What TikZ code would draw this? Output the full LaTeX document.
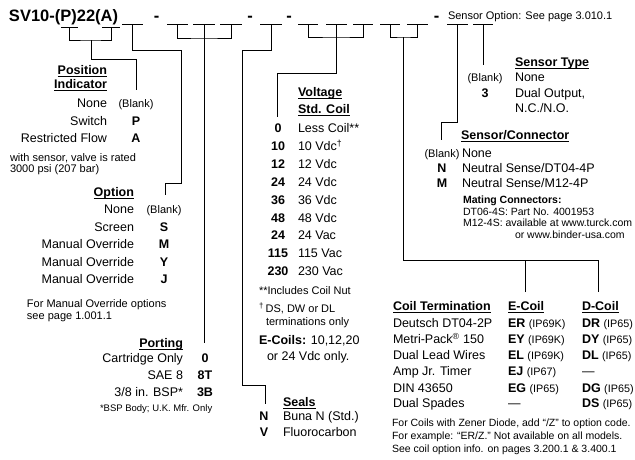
\documentclass[tikz,border=0pt]{standalone}
\usepackage{fontspec}
\setmainfont{Liberation Sans}

\newcommand{\fsz}[1]{\fontsize{#1}{#1}\selectfont}
\newcommand{\hul}[1]{\setbox0=\hbox{#1}\rlap{\rule[-2.2pt]{\wd0}{0.9pt}}\box0}
\newcommand{\coilcode}[2]{{\bfseries #1} {\fsz{10.8}(#2)}}

\begin{document}
\begin{tikzpicture}[x=1pt, y=-1pt,
    every node/.style={inner sep=0pt, outer sep=0pt},
    lft/.style={font=\fsz{12.5}, anchor=base west},
    rgt/.style={font=\fsz{12.5}, anchor=base east},
    hdr/.style={font=\fsz{12.5}\bfseries},
    code/.style={font=\fsz{12.5}\bfseries, anchor=base},
    note/.style={font=\fsz{11}, anchor=base west},
    blk/.style={font=\fsz{11}, anchor=base},
    wire/.style={line width=0.9pt},
    blank/.style={line width=0.9pt}
  ]
    \useasboundingbox (0,0) rectangle (635,459);

    % model code line
    \node[font=\fsz{16.5}\bfseries, anchor=base west] (title) at (9,21) {SV10-(P)22(A)};
    \foreach \nm/\x in {d1/156.5, d2/250, d3/289, d4/436.5}
      \node[font=\fsz{16.5}\bfseries, anchor=base] (\nm) at (\x,21) {-};
    \node[font=\fsz{11}, anchor=base west] (sopt) at (448,19) {Sensor Option: See page 3.010.1};

    \foreach \nm/\xa/\xb/\yy in {bP/61/78/27.5, bA/102/120/27.5, b0/122/143/24,
        b1/167/188/24, b2/193/215/24, b3/220/242/24, b4/260/282/24,
        b5/298/318/24, b6/326/347/24, b7/353/373/24, b8/380/400/24,
        b9/407/428/24, b10/447/468/24, b11/473/493/24}
    {
      \draw[blank] (\xa,\yy) -- (\xb,\yy);
      \coordinate (\nm) at ({(\xa+\xb)/2},\yy);
    }

    % position indicator
    \node[hdr, anchor=base east] (posH1) at (107,74.5) {\hul{Position}};
    \node[hdr, anchor=base east] (posH2) at (107,88.5) {\hul{Indicator}};
    \node[rgt] (pos1) at (107,107.5) {None};
    \node[blk] (posK1) at (136,107) {(Blank)};
    \node[rgt] (pos2) at (107,125.5) {Switch};
    \node[code] (posK2) at (136,125.5) {P};
    \node[rgt] (pos3) at (107,142.5) {Restricted Flow};
    \node[code] (posK3) at (136,142.5) {A};
    \node[note] (posN1) at (10,161) {with sensor, valve is rated};
    \node[note] (posN2) at (10,172) {3000 psi (207 bar)};

    % option
    \node[hdr, anchor=base east] (optH) at (134,196.5) {\hul{Option}};
    \node[rgt] (opt1) at (134,213.5) {None};
    \node[blk] (optK1) at (164,213) {(Blank)};
    \foreach \t/\k/\yy [count=\i from 2] in {Screen/S/231.5, Manual Override/M/248.5,
        Manual Override/Y/266, Manual Override/J/283.5}
    {
      \node[rgt] (opt\i) at (134,\yy) {\t};
      \node[code] (optK\i) at (164,\yy) {\k};
    }
    \node[note] (optN1) at (27,307) {For Manual Override options};
    \node[note] (optN2) at (27,319) {see page 1.001.1};

    % porting
    \node[hdr, anchor=base east] (portH) at (183,347.5) {\hul{Porting}};
    \foreach \t/\k/\yy [count=\i] in {Cartridge Only/0/362.5, SAE 8/8T/379.5,
        {3/8 in. BSP*}/3B/396.5}
    {
      \node[rgt] (port\i) at (183,\yy) {\t};
      \node[code] (portK\i) at (205,\yy) {\k};
    }
    \node[font=\fsz{9.5}, anchor=base west] (portN) at (100,411) {*BSP Body; U.K. Mfr. Only};

    % voltage
    \node[hdr, anchor=base west] (voltH1) at (298,96.5) {\hul{Voltage}};
    \node[hdr, anchor=base west] (voltH2) at (298,113.5) {\hul{Std. Coil}};
    \foreach \k/\v/\yy [count=\i] in {0/Less Coil**/132.5, 10/10 Vdc\textsuperscript{†}/150.4,
        12/12 Vdc/168.3, 24/24 Vdc/186.2, 36/36 Vdc/204.1, 48/48 Vdc/222,
        24/24 Vac/239.9, 115/115 Vac/257.8, 230/230 Vac/275.7}
    {
      \node[code] (voltK\i) at (278,\yy) {\k};
      \node[lft] (volt\i) at (298,\yy) {\v};
    }
    \node[note] (voltN1) at (259,294) {**Includes Coil Nut};
    \node[note] (voltN2) at (259,312) {\textsuperscript{†}\,DS, DW or DL};
    \node[note] (voltN3) at (266,325) {terminations only};
    \node[lft] (voltE1) at (259,344.5) {\textbf{E-Coils:} 10,12,20};
    \node[lft] (voltE2) at (267,360.5) {or 24 Vdc only.};

    % seals
    \node[hdr, anchor=base west] (sealH) at (283,406.5) {\hul{Seals}};
    \node[code] (sealK1) at (264,420.5) {N};
    \node[lft] (seal1) at (283,420.5) {Buna N (Std.)};
    \node[code] (sealK2) at (264,436.5) {V};
    \node[lft] (seal2) at (283,436.5) {Fluorocarbon};

    % sensor type
    \node[hdr, anchor=base west] (stH) at (515,66.5) {\hul{Sensor Type}};
    \node[blk] (stK1) at (485,81) {(Blank)};
    \node[lft] (st1) at (515,81.5) {None};
    \node[code] (stK2) at (485,97.5) {3};
    \node[lft] (st2) at (515,97.5) {Dual Output,};
    \node[lft] (st3) at (515,112.5) {N.C./N.O.};

    % sensor / connector
    \node[hdr, anchor=base west] (scH) at (461,139.5) {\hul{Sensor/Connector}};
    \node[blk] (scK1) at (442,157) {(Blank)};
    \node[lft] (sc1) at (462,157.5) {None};
    \node[code] (scK2) at (442,172.5) {N};
    \node[lft] (sc2) at (462,172.5) {Neutral Sense/DT04-4P};
    \node[code] (scK3) at (442,187.5) {M};
    \node[lft] (sc3) at (462,187.5) {Neutral Sense/M12-4P};
    \node[font=\fsz{10.5}\bfseries, anchor=base west] (matH) at (463,203) {Mating Connectors:};
    \node[font=\fsz{10.5}, anchor=base west] (mat1) at (463,215) {DT06-4S: Part No. 4001953};
    \node[font=\fsz{10.5}, anchor=base west] (mat2) at (463,226.5) {M12-4S: available at www.turck.com};
    \node[font=\fsz{10.5}, anchor=base west] (mat3) at (515,238) {or www.binder-usa.com};

    % coil termination
    \node[hdr, anchor=base west] (ctH) at (393,310.5) {\hul{Coil Termination}};
    \node[hdr, anchor=base west] (ecH) at (508,310.5) {\hul{E-Coil}};
    \node[hdr, anchor=base west] (dcH) at (582,310.5) {\hul{D-Coil}};
    \foreach \t/\e/\d/\yy [count=\i] in {
        Deutsch DT04-2P/{\coilcode{ER}{IP69K}}/{\coilcode{DR}{IP65}}/327.5,
        Metri-Pack\textsuperscript{®} 150/{\coilcode{EY}{IP69K}}/{\coilcode{DY}{IP65}}/343.5,
        Dual Lead Wires/{\coilcode{EL}{IP69K}}/{\coilcode{DL}{IP65}}/359.5,
        Amp Jr. Timer/{\coilcode{EJ}{IP67}}/{—}/375.5,
        DIN 43650/{\coilcode{EG}{IP65}}/{\coilcode{DG}{IP65}}/392.5,
        Dual Spades/{—}/{\coilcode{DS}{IP65}}/407.5}
    {
      \node[lft] (ct\i) at (393,\yy) {\t};
      \node[lft] (ec\i) at (508,\yy) {\e};
      \node[lft] (dc\i) at (582,\yy) {\d};
    }
    \node[note, font=\fsz{10.5}] (ctN1) at (392,426) {For Coils with Zener Diode, add “/Z” to option code.};
    \node[note, font=\fsz{10.5}] (ctN2) at (392,439) {For example: “ER/Z.” Not available on all models.};
    \node[note, font=\fsz{10.5}] (ctN3) at (392,452) {See coil option info. on pages 3.200.1 \& 3.400.1};

    % connectors
    \coordinate (jPA) at (91,40);
    \coordinate (posEnd) at (136,90);
    \draw[wire] (bP) |- (jPA) -| (bA);
    \draw[wire] (jPA) -- ++(0,19) -| (posEnd);

    \coordinate (optEnd) at (165,195);
    \draw[wire] (b0) -- ++(0,26) -| ++(49,133) -| (optEnd);

    \coordinate (jPort) at (204,38);
    \coordinate (portEnd) at (204,343);
    \draw[wire] (b1) |- (jPort) -| (b3);
    \draw[wire] (b2) -- (portEnd);

    \coordinate (sealEnd) at (265,404);
    \draw[wire] (b4) -- ++(0,26) -| ++(-29,335) -| (sealEnd);

    \coordinate (jVolt) at (336.5,37);
    \coordinate (voltEnd) at (277,117);
    \draw[wire] (b5) |- (jVolt) -| (b7);
    \draw[wire] (b6) -- ++(0,49) -| (voltEnd);

    \coordinate (jCoil) at (403.75,37);
    \coordinate (coilBar) at (403.75,260);
    \coordinate (eEnd) at (525,292);
    \coordinate (dEnd) at (598,292);
    \draw[wire] (b8) |- (jCoil) -| (b9);
    \draw[wire] (jCoil) -- (coilBar) -| (dEnd);
    \draw[wire] (eEnd) -- (eEnd |- coilBar);

    \coordinate (scEnd) at (441,140);
    \draw[wire] (b10) -- ++(0,98) -| (scEnd);

    \coordinate (stEnd) at (483,65);
    \draw[wire] (b11) -- (stEnd);
  \end{tikzpicture}
\end{document}
